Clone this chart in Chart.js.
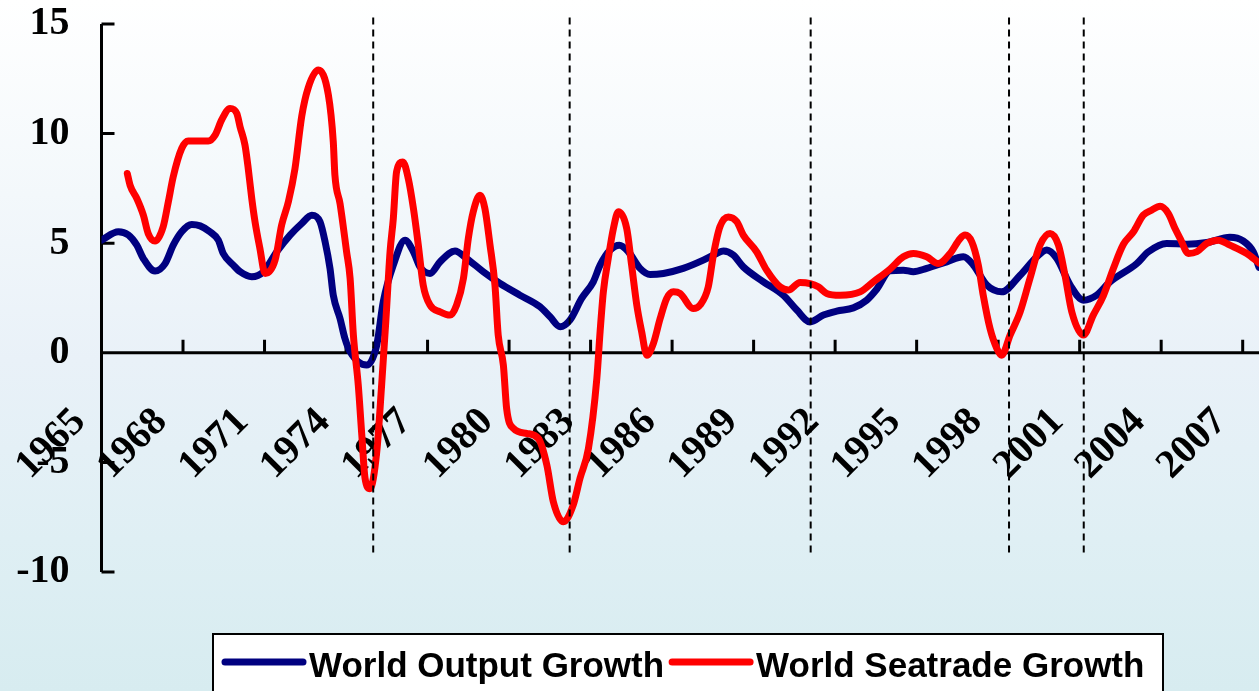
<!DOCTYPE html>
<html>
<head>
<meta charset="utf-8">
<title>World Output vs Seatrade Growth</title>
<script src="https://cdn.jsdelivr.net/npm/chart.js@4"></script>
<style>
  html, body { margin: 0; padding: 0; }
  body {
    width: 1259px;
    height: 691px;
    overflow: hidden;
    background: linear-gradient(to bottom, #ffffff 0%, #f3f8fb 28%, #e9f1f8 52%, #dfeff4 78%, #d7ecf0 100%);
  }
  canvas { display: block; }
</style>
</head>
<body>
<canvas id="chart" width="1259" height="691"></canvas>
<script>
// world output growth, %
const outputYears = [
  1965.00, 1965.62, 1965.99, 1966.30, 1966.54, 1966.97, 1967.34, 1967.64, 1967.95, 1968.32,
  1968.63, 1968.99, 1969.30, 1969.48, 1969.85, 1970.10, 1970.53, 1970.96, 1971.45, 1971.94,
  1972.37, 1972.74, 1973.04, 1973.23, 1973.41, 1973.53, 1973.78, 1973.96, 1974.15, 1974.76,
  1975.13, 1975.37, 1975.74, 1976.17, 1976.48, 1976.72, 1977.09, 1977.46, 1978.01, 1978.44,
  1979.05, 1979.67, 1980.40, 1981.14, 1981.51, 1981.88, 1982.24, 1982.67, 1983.10, 1983.35,
  1983.72, 1984.06, 1984.39, 1984.82, 1985.19, 1985.68, 1986.41, 1987.15, 1987.64, 1987.89,
  1988.25, 1988.62, 1989.36, 1990.09, 1990.59, 1991.08, 1991.57, 1992.06, 1992.67, 1993.16,
  1993.53, 1994.02, 1994.51, 1994.88, 1995.37, 1996.11, 1996.72, 1997.09, 1997.58, 1998.13,
  1998.81, 1999.42, 1999.79, 2000.16, 2000.65, 2001.14, 2001.63, 2002.12, 2003.10, 2003.53,
  2004.20, 2004.94, 2005.68, 2006.53, 2007.02, 2007.39, 2007.60
];
const outputGrowth = [
  5.14, 5.52, 5.37, 4.91, 4.30, 3.73, 4.07, 4.91, 5.52, 5.85,
  5.79, 5.52, 5.14, 4.53, 4.00, 3.70, 3.47, 3.70, 4.61, 5.37,
  5.90, 6.28, 5.98, 5.06, 3.85, 2.63, 1.56, 0.65, 0.05, -0.56,
  0.35, 2.33, 4.00, 5.14, 4.61, 3.92, 3.62, 4.15, 4.64, 4.30,
  3.70, 3.16, 2.63, 2.10, 1.64, 1.19, 1.49, 2.48, 3.24, 4.00,
  4.69, 4.91, 4.61, 3.85, 3.57, 3.62, 3.85, 4.23, 4.53, 4.64,
  4.46, 3.92, 3.24, 2.63, 1.95, 1.41, 1.72, 1.90, 2.05, 2.40,
  2.90, 3.74, 3.77, 3.70, 3.85, 4.15, 4.38, 4.00, 3.09, 2.78,
  3.54, 4.38, 4.69, 4.30, 3.09, 2.40, 2.63, 3.24, 4.07, 4.61,
  4.99, 4.95, 5.03, 5.27, 5.10, 4.60, 3.90
];

// world seatrade growth, %
const seatradeYears = [
  1965.95, 1966.05, 1966.30, 1966.54, 1966.72, 1966.97, 1967.27, 1967.46, 1967.64, 1967.95,
  1968.19, 1968.93, 1969.18, 1969.42, 1969.73, 1969.98, 1970.10, 1970.28, 1970.40, 1970.53,
  1970.65, 1970.83, 1971.02, 1971.39, 1971.63, 1971.88, 1972.12, 1972.37, 1972.61, 1972.98,
  1973.35, 1973.53, 1973.59, 1973.78, 1974.02, 1974.15, 1974.27, 1974.45, 1974.58, 1974.70,
  1974.88, 1975.13, 1975.31, 1975.47, 1975.62, 1975.74, 1975.86, 1976.09, 1976.29, 1976.48,
  1976.66, 1976.84, 1977.09, 1977.46, 1977.83, 1978.07, 1978.32, 1978.50, 1978.68, 1978.93,
  1979.11, 1979.30, 1979.48, 1979.60, 1979.79, 1979.91, 1980.16, 1980.65, 1981.08, 1981.39,
  1981.63, 1982.00, 1982.36, 1982.61, 1982.92, 1983.23, 1983.35, 1983.47, 1983.65, 1983.84,
  1984.02, 1984.33, 1984.51, 1984.70, 1984.88, 1985.07, 1985.31, 1985.56, 1985.80, 1986.05,
  1986.29, 1986.78, 1987.03, 1987.33, 1987.52, 1987.76, 1988.07, 1988.38, 1988.62, 1989.11,
  1989.48, 1989.97, 1990.28, 1990.71, 1991.08, 1991.38, 1991.69, 1992.18, 1992.92, 1993.41,
  1994.02, 1994.51, 1994.88, 1995.37, 1995.80, 1996.23, 1996.60, 1996.78, 1997.03, 1997.27,
  1997.45, 1997.70, 1997.95, 1998.13, 1998.44, 1998.81, 1999.17, 1999.54, 1999.91, 2000.22,
  2000.46, 2000.71, 2001.14, 2001.50, 2001.87, 2002.24, 2002.61, 2002.98, 2003.34, 2003.65,
  2003.96, 2004.26, 2004.51, 2004.70, 2005.00, 2005.31, 2005.68, 2006.10, 2006.53, 2007.15,
  2007.60
];
const seatradeGrowth = [
  8.18, 7.65, 7.04, 6.28, 5.44, 5.10, 5.75, 6.89, 8.03, 9.32,
  9.66, 9.66, 9.93, 10.62, 11.15, 10.92, 10.31, 9.48, 8.41, 7.04,
  5.98, 4.76, 3.62, 4.23, 5.83, 6.90, 8.40, 10.80, 12.10, 12.90,
  11.76, 9.63, 8.11, 6.80, 4.61, 3.39, 0.81, -1.47, -3.75, -5.73,
  -6.20, -4.52, -1.47, 1.56, 4.61, 6.13, 8.26, 8.71, 7.95, 6.58,
  4.91, 3.09, 2.18, 1.87, 1.72, 2.18, 3.39, 5.21, 6.43, 7.19,
  6.58, 4.91, 3.09, 0.81, -0.56, -2.54, -3.45, -3.68, -3.91, -5.12,
  -6.80, -7.71, -6.95, -5.73, -4.37, -1.17, 0.96, 2.78, 4.30, 5.67,
  6.43, 5.67, 4.00, 2.18, 0.96, -0.11, 0.42, 1.56, 2.48, 2.78,
  2.71, 2.02, 2.18, 3.00, 4.46, 5.75, 6.20, 5.98, 5.37, 4.61,
  3.77, 3.01, 2.86, 3.21, 3.16, 3.01, 2.71, 2.63, 2.78, 3.24,
  3.82, 4.38, 4.53, 4.38, 4.07, 4.53, 5.21, 5.37, 5.06, 4.00,
  2.63, 1.11, 0.20, -0.11, 0.81, 1.87, 3.39, 4.91, 5.44, 4.91,
  3.54, 1.87, 0.81, 1.72, 2.60, 3.85, 4.95, 5.52, 6.28, 6.51,
  6.68, 6.36, 5.67, 5.21, 4.53, 4.61, 4.99, 5.14, 4.91, 4.53,
  4.10
];

// dashed markers (turning points)
const cycleYears = [1975.0, 1982.23, 1991.1, 1998.4, 2001.15];
const cycleTop = 15.3;
const cycleBottom = -9.3;

const yearTicks = [1965, 1968, 1971, 1974, 1977, 1980, 1983, 1986, 1989, 1992, 1995, 1998, 2001, 2004, 2007];
const valueTicks = [-10, -5, 0, 5, 10, 15];

const legendItems = ['World Output Growth', 'World Seatrade Growth'];
const BLUE = '#000080';
const RED = '#ff0000';

const toPoints = (xs, ys) => xs.map((x, i) => ({ x: x, y: ys[i] }));

const cycleSets = cycleYears.map(yr => ({
    data: [{ x: yr, y: cycleTop }, { x: yr, y: cycleBottom }],
    borderColor: '#000',
    borderWidth: 2,
    borderDash: [7, 5],
    pointRadius: 0,
    clip: false
}));

// axis lines + inside tick marks
const axesPlugin = {
    id: 'axesPlugin',
    beforeDatasetsDraw(chart) {
        const { ctx, chartArea, scales } = chart;
        const x = scales.x, y = scales.y;
        const y0 = y.getPixelForValue(0);
        ctx.save();
        ctx.strokeStyle = '#000';
        ctx.lineWidth = 3;
        ctx.beginPath();
        ctx.moveTo(chartArea.left, y.getPixelForValue(15));
        ctx.lineTo(chartArea.left, y.getPixelForValue(-10));
        ctx.moveTo(chartArea.left, y0);
        ctx.lineTo(chartArea.right, y0);
        valueTicks.forEach(v => {
            const py = y.getPixelForValue(v);
            ctx.moveTo(chartArea.left, py);
            ctx.lineTo(chartArea.left + 13, py);
        });
        yearTicks.forEach(v => {
            const px = x.getPixelForValue(v);
            ctx.moveTo(px, y0);
            ctx.lineTo(px, y0 - 13);
        });
        ctx.stroke();
        ctx.restore();
    }
};

// boxed legend, sits off-centre like the original
const legendPlugin = {
    id: 'boxLegend',
    afterDraw(chart) {
        const ctx = chart.ctx;
        const left = 213, top = 634, right = 1163;
        ctx.save();
        ctx.fillStyle = '#fff';
        ctx.fillRect(left, top, right - left, 80);
        ctx.strokeStyle = '#000';
        ctx.lineWidth = 2;
        ctx.strokeRect(left, top, right - left, 80);

        ctx.font = 'bold 35px "Liberation Sans", Arial, sans-serif';
        ctx.textBaseline = 'alphabetic';
        ctx.lineCap = 'round';
        let cx = left + 12;
        const colors = [BLUE, RED];
        legendItems.forEach((label, i) => {
            ctx.strokeStyle = colors[i];
            ctx.lineWidth = 7;
            ctx.beginPath();
            ctx.moveTo(cx, 662);
            ctx.lineTo(cx + 78, 662);
            ctx.stroke();
            cx += 84;
            ctx.fillStyle = '#000';
            ctx.fillText(label, cx, 677);
            cx += ctx.measureText(label).width + 8;
        });
        ctx.restore();
    }
};

new Chart(document.getElementById('chart'), {
    type: 'line',
    data: {
        datasets: [
            ...cycleSets,
            {
                label: legendItems[1],
                data: toPoints(seatradeYears, seatradeGrowth),
                borderColor: RED,
                borderWidth: 7,
                pointRadius: 0,
                cubicInterpolationMode: 'monotone',
                borderJoinStyle: 'round',
                borderCapStyle: 'round'
            },
            {
                label: legendItems[0],
                data: toPoints(outputYears, outputGrowth),
                borderColor: BLUE,
                borderWidth: 7,
                pointRadius: 0,
                cubicInterpolationMode: 'monotone',
                borderJoinStyle: 'round',
                borderCapStyle: 'round'
            }
        ]
    },
    options: {
        responsive: false,
        animation: false,
        layout: {
            padding: { top: 24, right: 0, bottom: 119, left: 0 }
        },
        plugins: {
            legend: { display: false },
            tooltip: { enabled: false }
        },
        scales: {
            x: {
                type: 'linear',
                position: { y: 0 },
                min: 1965,
                max: 2007.6,
                afterBuildTicks: s => { s.ticks = yearTicks.map(v => ({ value: v })); },
                afterFit: s => { s.height = 0; s.paddingLeft = 0; s.paddingRight = 0; },
                grid: { display: false, drawTicks: false },
                border: { display: false },
                ticks: {
                    autoSkip: false,
                    minRotation: 45,
                    maxRotation: 45,
                    padding: 46,
                    labelOffset: -22,
                    color: '#000',
                    font: { family: '"Liberation Serif", "Times New Roman", serif', size: 40, weight: 'bold' },
                    callback: v => String(v)
                }
            },
            y: {
                min: -10,
                max: 15,
                afterBuildTicks: s => { s.ticks = valueTicks.map(v => ({ value: v })); },
                afterFit: s => { s.width = 101.5; s.paddingTop = 0; s.paddingBottom = 0; },
                grid: { display: false, drawTicks: false },
                border: { display: false },
                ticks: {
                    padding: 32,
                    color: '#000',
                    font: { family: '"Liberation Serif", "Times New Roman", serif', size: 40, weight: 'bold', lineHeight: 1 }
                }
            }
        }
    },
    plugins: [axesPlugin, legendPlugin]
});
</script>
</body>
</html>
